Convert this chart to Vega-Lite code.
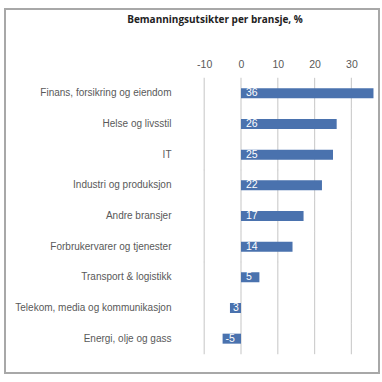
{
  "$schema": "https://vega.github.io/schema/vega-lite/v6.json",
  "width": 374,
  "height": 364,
  "autosize": "none",
  "padding": {"left": 5, "top": 9, "right": 3, "bottom": 9},
  "background": "white",
  "title": {
    "text": "Bemanningsutsikter per bransje, %",
    "anchor": "middle",
    "dx": 23,
    "offset": -16,
    "font": "Open Sans",
    "fontSize": 10,
    "fontWeight": "bold",
    "color": "#222222"
  },
  "config": {
    "view": {"stroke": "#a8a8a8", "strokeWidth": 2},
    "font": "Liberation Sans"
  },
  "data": {
    "values": [
      {"bransje": "Finans, forsikring og eiendom", "verdi": 36, "label": "36"},
      {"bransje": "Helse og livsstil", "verdi": 26, "label": "26"},
      {"bransje": "IT", "verdi": 25, "label": "25"},
      {"bransje": "Industri og produksjon", "verdi": 22, "label": "22"},
      {"bransje": "Andre bransjer", "verdi": 17, "label": "17"},
      {"bransje": "Forbrukervarer og tjenester", "verdi": 14, "label": "14"},
      {"bransje": "Transport & logistikk", "verdi": 5, "label": "5"},
      {"bransje": "Telekom, media og kommunikasjon", "verdi": -3, "label": "3"},
      {"bransje": "Energi, olje og gass", "verdi": -5, "label": "-5"}
    ]
  },
  "encoding": {
    "y": {
      "field": "bransje",
      "type": "nominal",
      "sort": null,
      "scale": {
        "domain": ["Finans, forsikring og eiendom", "Helse og livsstil", "IT", "Industri og produksjon", "Andre bransjer", "Forbrukervarer og tjenester", "Transport & logistikk", "Telekom, media og kommunikasjon", "Energi, olje og gass"],
        "range": [69, 345], "paddingInner": 0, "paddingOuter": 0
      },
      "axis": {
        "title": null,
        "orient": "left",
        "offset": -170,
        "domain": false,
        "ticks": false,
        "labelPadding": 4,
        "labelFontSize": 10,
        "labelColor": "#595959",
        "labelLimit": 300,
        "grid": false
      }
    }
  },
  "layer": [
    {"mark": {"type": "tick", "color": "#cfcfcf", "thickness": 1.2, "size": 31, "opacity": 1, "orient": "vertical"}, "encoding": {"x": {"datum": -10}}},
    {"mark": {"type": "tick", "color": "#cfcfcf", "thickness": 1.2, "size": 31, "opacity": 1, "orient": "vertical"}, "encoding": {"x": {"datum": 0}}},
    {"mark": {"type": "tick", "color": "#cfcfcf", "thickness": 1.2, "size": 31, "opacity": 1, "orient": "vertical"}, "encoding": {"x": {"datum": 10}}},
    {"mark": {"type": "tick", "color": "#cfcfcf", "thickness": 1.2, "size": 31, "opacity": 1, "orient": "vertical"}, "encoding": {"x": {"datum": 20}}},
    {"mark": {"type": "tick", "color": "#cfcfcf", "thickness": 1.2, "size": 31, "opacity": 1, "orient": "vertical"}, "encoding": {"x": {"datum": 30}}},
    {
      "mark": {"type": "bar", "color": "#4a72ae", "height": 10},
      "encoding": {
        "x": {
          "field": "verdi",
          "type": "quantitative",
          "scale": {"domain": [-64.13, 37.5], "nice": false, "zero": false},
          "axis": {
            "title": null,
            "orient": "top",
            "values": [-10, 0, 10, 20, 30],
            "labelExpr": "'' + datum.value",
            "offset": -62,
            "domain": false,
            "ticks": false,
            "tickSize": 0,
            "grid": false,
            "labelPadding": 2,
            "labelFontSize": 10.5,
            "labelColor": "#595959"
          }
        }
      }
    },
    {
      "transform": [{"filter": "datum.verdi >= 0"}],
      "mark": {"type": "text", "color": "white", "align": "left", "dx": 5, "fontSize": 10.5, "baseline": "middle"},
      "encoding": {
        "x": {"datum": 0},
        "text": {"field": "label"}
      }
    },
    {
      "transform": [{"filter": "datum.verdi < 0"}],
      "mark": {"type": "text", "color": "white", "align": "left", "dx": 3, "fontSize": 10.5, "baseline": "middle"},
      "encoding": {
        "x": {"field": "verdi", "type": "quantitative"},
        "text": {"field": "label"}
      }
    }
  ]
}
